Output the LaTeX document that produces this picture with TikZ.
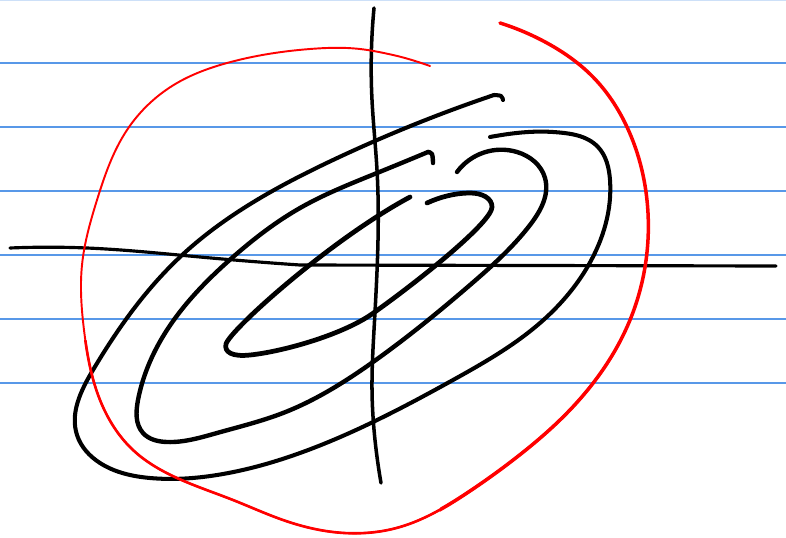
\documentclass[tikz,border=0pt]{standalone}
\usepackage{xcolor}
\usepackage{tikz}
\usetikzlibrary{arrows.meta, calc, hobby}

\definecolor{ruleblue}{RGB}{88,152,232}
\definecolor{inkred}{RGB}{255,0,0}

\newcommand{\redloop}{(430,66) .. (393,55) .. (360,49) .. (310,49) .. (227,63) .. (177,83) .. (127,130) .. (97,200) .. (82,265) .. (84,330) .. (100,400) .. (133,450) .. (177,478) .. (233,500) .. (283,520) .. (333,532) .. (400,527) .. (467,493) .. (517,457) .. (567,413) .. (630,320) .. (648,213) .. (627,127) .. (593,77) .. (547,43) .. (500,23)}

\begin{document}
\begin{tikzpicture}[x=0.02cm, y=-0.02cm, line cap=round, line join=round, use Hobby shortcut,
            rule/.style={ruleblue, line width=0.6pt},
            axisline/.style={black, line width=1.8pt},
            ring/.style={black, line width=2.5pt},
            loop/.style={inkred, line width=#1}]

            \useasboundingbox (0,0) rectangle (786,537);

            \draw[rule, ruleblue!30] (0,0.5) -- (786,0.5);
            \foreach \y in {63,127,191,255,319,383}
                \draw[rule] (0,\y) -- (786,\y);

            \draw[axisline] (10,248) .. (87,248) .. (200,257) .. (300,265) -- (776,266);
            \draw[axisline, line width=2pt] (374,8) .. (372,100) .. (377,170) .. (378,240) .. (374,330) .. (372,390) .. (375,440) .. (381,483);

            \draw[ring, line width=2.7pt] (427,203) .. controls (440,197) and (455,193) .. (470,193)
                .. controls (482,193) and (492,198) .. (492,207)
                .. controls (492,222) and (420,280) .. (372,314)
                .. controls (340,336) and (280,352) .. (250,355)
                .. controls (232,357) and (224,352) .. (226,344)
                .. controls (230,330) and (330,240) .. (410,197);
            \draw[ring] (457,172) .. (517,152) .. (545,178) .. (530,225) .. (470,285) .. (373,362) .. (283,413) .. (217,433) .. (167,442) .. (143,433) .. (138,400) .. (157,347) .. (233,257) .. (300,208) .. (377,173) .. (428,152);
            \draw[ring] plot[smooth, tension=0.6] coordinates {(428,152) (432,154) (433,163)};
            \draw[ring, line width=2.3pt] (490,137) .. (553,132) .. (598,147) .. (610,180) .. (588,266) .. (540,323) .. (453,380) .. (300,453) .. (217,475) .. (150,478) .. (100,463) .. (77,435) .. (93,370) .. (180,257) .. (333,160) .. (413,125) .. (494,95);
            \draw[ring, line width=2.3pt] plot[smooth, tension=0.6] coordinates {(494,95) (501,96) (503,100)};

            \draw[loop=1.1pt] \redloop;
            \begin{scope}
                \clip (0,340) rectangle (786,537);
                \draw[loop=1.5pt] \redloop;
            \end{scope}
            \begin{scope}
                \clip (440,0) rectangle (786,537);
                \draw[loop=2pt] \redloop;
            \end{scope}
        \end{tikzpicture}
\end{document}
